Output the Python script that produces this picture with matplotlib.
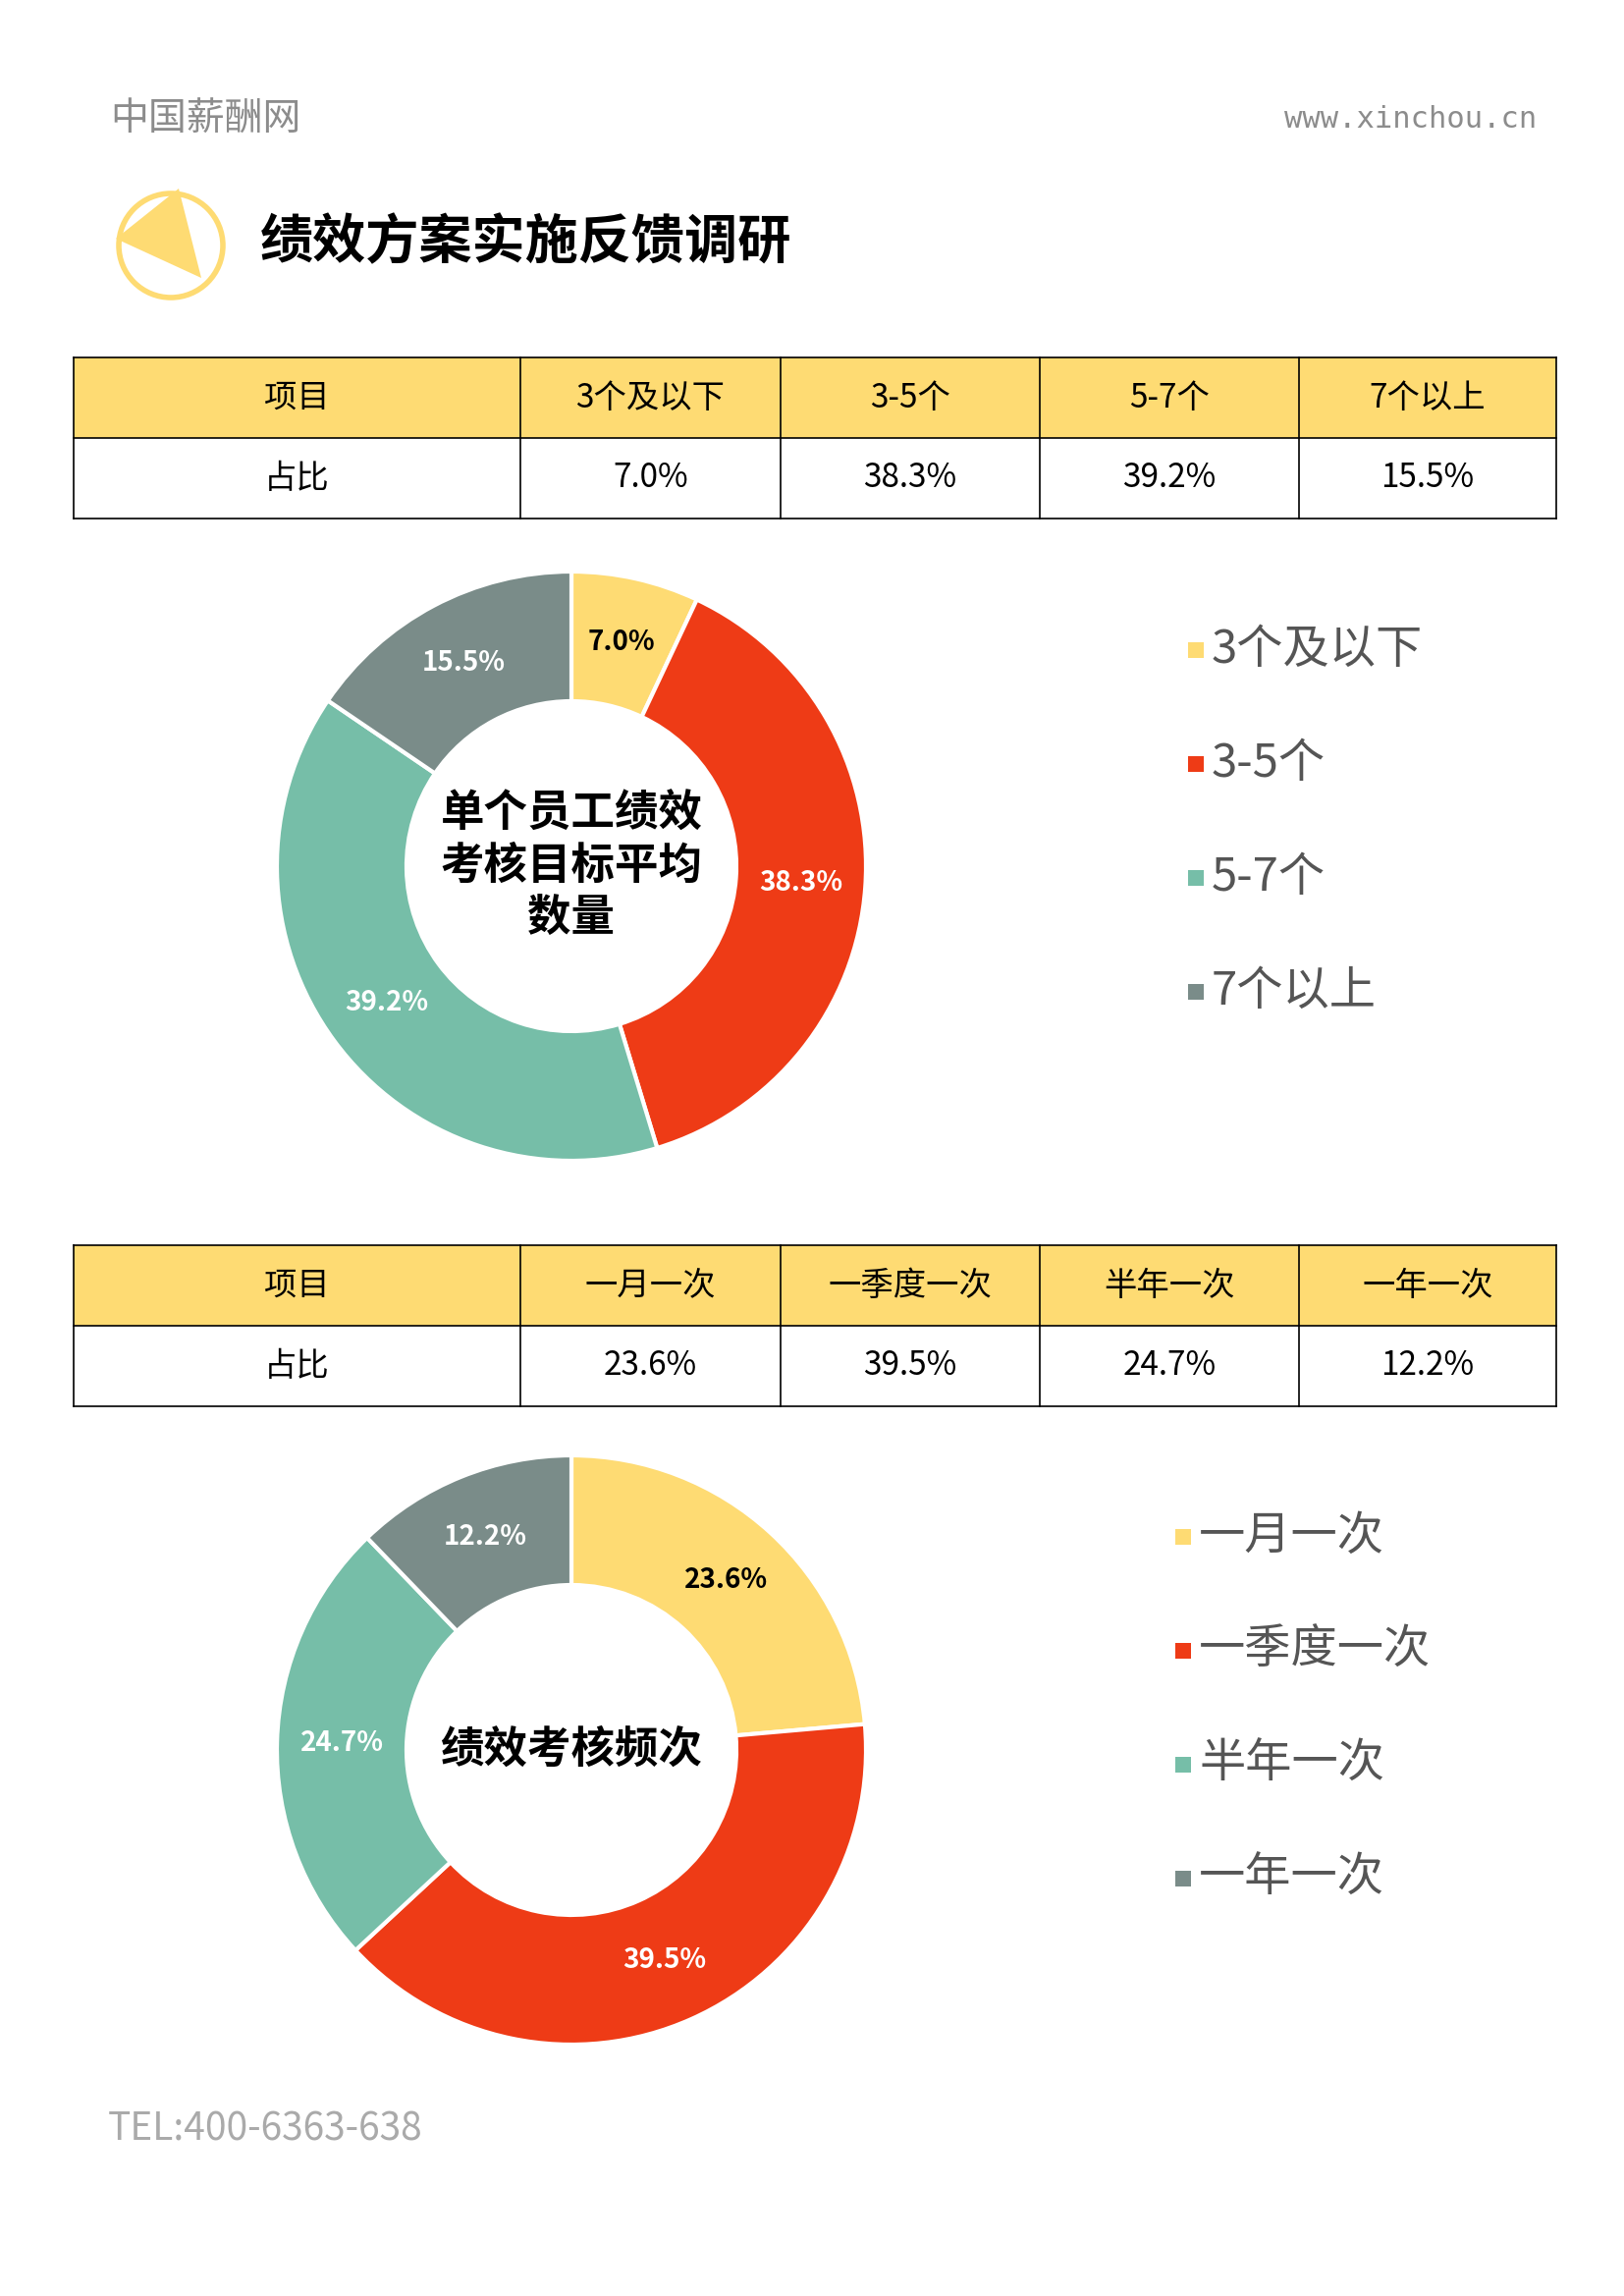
import matplotlib
matplotlib.use("Agg")
import matplotlib.pyplot as plt
from matplotlib.patches import Rectangle, Circle, Polygon

plt.rcParams['font.family'] = ['Noto Sans CJK SC', 'DejaVu Sans']

# ---- data ----
table1_cols = ["项目", "3个及以下", "3-5个", "5-7个", "7个以上"]
table1_vals = ["占比", "7.0%", "38.3%", "39.2%", "15.5%"]
pie1_labels = ["3个及以下", "3-5个", "5-7个", "7个以上"]
pie1_values = [7.0, 38.3, 39.2, 15.5]
pie1_title = "单个员工绩效\n考核目标平均\n数量"

table2_cols = ["项目", "一月一次", "一季度一次", "半年一次", "一年一次"]
table2_vals = ["占比", "23.6%", "39.5%", "24.7%", "12.2%"]
pie2_labels = ["一月一次", "一季度一次", "半年一次", "一年一次"]
pie2_values = [23.6, 39.5, 24.7, 12.2]
pie2_title = "绩效考核频次"

colors = ["#FEDB73", "#EE3B16", "#76BEA8", "#7A8C89"]
pct_colors = ["black", "white", "white", "white"]
HEAD = "#FEDB73"
GREY = "#8C8C8C"

W, H = 1654, 2338
fig = plt.figure(figsize=(W / 100, H / 100), dpi=100)
bg = fig.add_axes([0, 0, 1, 1])
bg.set_xlim(0, W)
bg.set_ylim(H, 0)
bg.axis("off")

# header
bg.text(112, 122, "中国薪酬网", fontsize=28, color=GREY, va="center")
bg.text(1565, 122, "www.xinchou.cn", fontsize=22, color=GREY, va="center", ha="right",
        family="DejaVu Sans Mono")
bg.add_patch(Circle((174, 250), 53, fill=False, ec=HEAD, lw=4))
bg.add_patch(Polygon([(182, 192), (118, 243), (205, 283)], closed=True, fc=HEAD, ec="none"))
bg.text(265, 248, "绩效方案实施反馈调研", fontsize=39, fontweight="bold", va="center")


def draw_table(top, cols, vals):
    xs = [75, 530, 795, 1059, 1323, 1585]
    rh = 82
    bg.add_patch(Rectangle((75, top), 1510, rh, fc=HEAD, ec="none"))
    for r in range(3):
        bg.plot([75, 1585], [top + r * rh] * 2, color="black", lw=1.2)
    for x in xs:
        bg.plot([x, x], [top, top + 2 * rh], color="black", lw=1.2)
    for i in range(5):
        cx = (xs[i] + xs[i + 1]) / 2
        bg.text(cx, top + rh / 2, cols[i], fontsize=24, ha="center", va="center")
        bg.text(cx, top + rh * 1.5, vals[i], fontsize=24, ha="center", va="center")


def draw_pie(cx, cy, values, labels, title, title_size, leg_x, leg_y):
    r = 300
    ax = fig.add_axes([(cx - r) / W, 1 - (cy + r) / H, 2 * r / W, 2 * r / H])
    wedges, _, autotexts = ax.pie(values, colors=colors, startangle=90, counterclock=False,
                                  radius=1, autopct=lambda p: f"{p:.1f}%", pctdistance=0.78,
                                  wedgeprops=dict(width=0.44, edgecolor="white", linewidth=3))
    for t, c in zip(autotexts, pct_colors):
        t.set_color(c)
        t.set_fontsize(20)
        t.set_fontweight("bold")
    ax.text(0, 0, title, ha="center", va="center", fontsize=title_size,
            fontweight="bold", linespacing=1.2)
    ax.set_xlim(-1, 1)
    ax.set_ylim(-1, 1)
    ax.set_aspect("equal")
    for i, lab in enumerate(labels):
        y = leg_y + i * 116
        bg.add_patch(Rectangle((leg_x, y - 8), 16, 16, fc=colors[i], ec="none"))
        bg.text(leg_x + 24, y, lab, fontsize=34, color="#555555", va="center")


draw_table(364, table1_cols, table1_vals)
draw_pie(582, 882, pie1_values, pie1_labels, pie1_title, 32, 1210, 662)
draw_table(1268, table2_cols, table2_vals)
draw_pie(582, 1782, pie2_values, pie2_labels, pie2_title, 32, 1197, 1565)

bg.text(110, 2168, "TEL:400-6363-638", fontsize=28, color="#AAAAAA", va="center")

fig.savefig("out.png", dpi=100)
